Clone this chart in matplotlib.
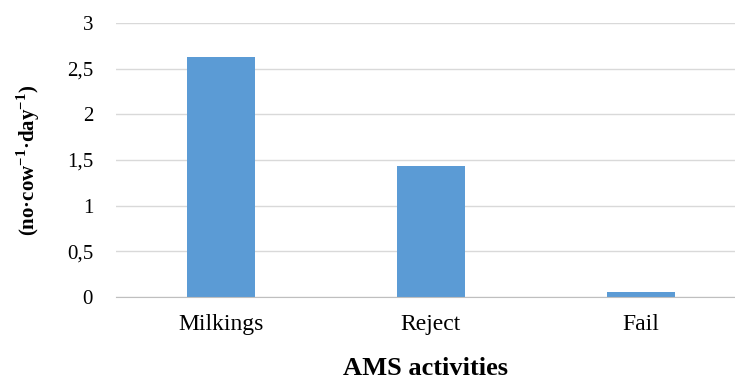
"""AMS activity frequencies per cow and day, bar chart."""

import matplotlib.pyplot as plt
import numpy as np

activities = ["Milkings", "Reject", "Fail"]
per_cow_day = [2.63, 1.43, 0.05]
y_ticks = [0, 0.5, 1, 1.5, 2, 2.5, 3]
y_tick_labels = ["0", "0,5", "1", "1,5", "2", "2,5", "3"]

BAR_COLOR = "#5b9bd5"
GRID_COLOR = "#d9d9d9"

plt.rcParams["mathtext.fontset"] = "custom"
plt.rcParams["mathtext.rm"] = "Liberation Serif:bold"
plt.rcParams["mathtext.bf"] = "Liberation Serif:bold"

fig = plt.figure(figsize=(7.35, 3.8), dpi=100)
ax = fig.add_axes([116 / 735, 1 - 297 / 380, 1 - 116 / 735, (297 - 23) / 380])

x = np.arange(len(activities))
ax.bar(x, per_cow_day, width=0.32, color=BAR_COLOR, zorder=2)

ax.set_xlim(-0.5, 2.448)
ax.set_ylim(0, 3)
ax.set_yticks(y_ticks)
ax.set_yticklabels(y_tick_labels, family="Liberation Serif", fontsize=15)
ax.set_xticks(x)
ax.set_xticklabels(activities, family="Liberation Serif", fontsize=17)
ax.tick_params(axis="y", length=0, pad=16.5)
ax.tick_params(axis="x", length=0, pad=12)

ax.grid(axis="y", color=GRID_COLOR, lw=1, zorder=0)
for side in ["top", "right", "left"]:
    ax.spines[side].set_visible(False)
ax.spines["bottom"].set_color("#bfbfbf")
ax.spines["bottom"].set_zorder(3)

ax.set_ylabel("(no·cow$^{-1}$·day$^{-1}$)", family="Liberation Serif",
              fontweight="bold", fontsize=15, labelpad=18)
ax.set_xlabel("AMS activities", family="Liberation Serif", fontweight="bold",
              fontsize=19, labelpad=16)

fig.savefig("out.png", dpi=100)
